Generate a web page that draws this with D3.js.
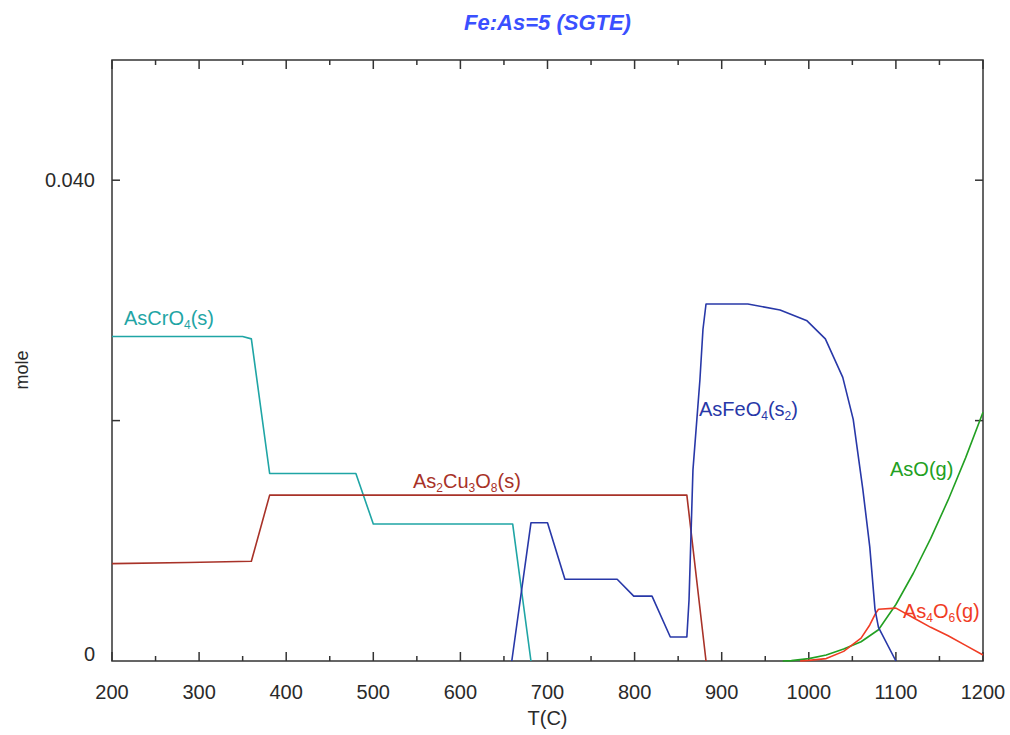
<!DOCTYPE html>
<html><head><meta charset="utf-8">
<script src="https://cdn.jsdelivr.net/npm/d3@7"></script>
<style>body{margin:0;background:#fff}svg{display:block}text{font-family:"Liberation Sans",Arial,sans-serif}</style>
</head><body><svg id="c" width="1010" height="735"></svg>
<script>
const xTicks = [200,300,400,500,600,700,800,900,1000,1100,1200];
const yTickLabels = [{v:0,t:"0"},{v:0.04,t:"0.040"}];
const asCrO4T = [200,350,360,381,480,500,660,681];
const asCrO4V = [0.027,0.027,0.0268,0.0156,0.0156,0.0114,0.0114,0];
const as2Cu3O8T = [200,287,360,381,860,882];
const as2Cu3O8V = [0.0081,0.0082,0.0083,0.0138,0.0138,0];
const asFeO4T = [659,681,700,720,780,799,820,841,860,862.5,867,875,878.5,882,930,967,998,1019,1039,1051,1062,1070,1076,1080,1100];
const asFeO4V = [0,0.0115,0.0115,0.0068,0.0068,0.0054,0.0054,0.002,0.002,0.0051,0.0159,0.0234,0.0276,0.0297,0.0297,0.0292,0.0283,0.0268,0.0236,0.0201,0.0143,0.0095,0.0043,0.0028,0];
const asOT = [970,980,1000,1020,1040,1060,1080,1100,1120,1140,1160,1180,1200];
const asOV = [0,0.00003,0.0002,0.0005,0.001,0.0016,0.0026,0.0047,0.0073,0.0102,0.0134,0.0169,0.0207];
const as4O6T = [990,1000,1020,1040,1060,1070,1077,1080,1100,1120,1140,1160,1180,1200];
const as4O6V = [0,0.00005,0.0002,0.0008,0.0019,0.003,0.004,0.0043,0.0044,0.0036,0.0028,0.0021,0.0013,0.0005];

const svg = d3.select("#c");
const L=112,R=983,T=60,B=661;
const x = d3.scaleLinear().domain([200,1200]).range([L,R]);
const y = d3.scaleLinear().domain([0,0.05]).range([B,T]);
const axisCol="#333";

// title
svg.append("text").attr("x",(L+R)/2).attr("y",30).attr("text-anchor","middle")
  .attr("fill","#3a50ff").attr("font-size",22).attr("font-weight","bold").attr("font-style","italic")
  .text("Fe:As=5 (SGTE)");

// frame
svg.append("rect").attr("x",L).attr("y",T).attr("width",R-L).attr("height",B-T)
  .attr("fill","none").attr("stroke",axisCol).attr("stroke-width",1.5);

// x ticks (inward), bottom and top
const xt = d3.range(200,1201,50);
xt.forEach(v=>{
  const len = v%100===0?9:5;
  svg.append("line").attr("x1",x(v)).attr("x2",x(v)).attr("y1",B).attr("y2",B-len).attr("stroke",axisCol).attr("stroke-width",1.5);
  svg.append("line").attr("x1",x(v)).attr("x2",x(v)).attr("y1",T).attr("y2",T+len).attr("stroke",axisCol).attr("stroke-width",1.5);
});
xTicks.forEach(v=>{
  svg.append("text").attr("x",x(v)).attr("y",699).attr("text-anchor","middle").attr("font-size",20).attr("fill","#2a2a2a").text(v);
});
// y ticks
[0.02,0.04].forEach(v=>{
  svg.append("line").attr("x1",L).attr("x2",L+8).attr("y1",y(v)).attr("y2",y(v)).attr("stroke",axisCol).attr("stroke-width",1.5);
  svg.append("line").attr("x1",R).attr("x2",R-8).attr("y1",y(v)).attr("y2",y(v)).attr("stroke",axisCol).attr("stroke-width",1.5);
});
yTickLabels.forEach(d=>{
  svg.append("text").attr("x",95).attr("y",d.v===0?661:y(d.v)+7).attr("text-anchor","end").attr("font-size",20).attr("fill","#2a2a2a").text(d.t);
});
svg.append("text").attr("x",(L+R)/2).attr("y",725).attr("text-anchor","middle").attr("font-size",20).attr("fill","#2a2a2a").text("T(C)");
svg.append("text").attr("transform","translate(28,370) rotate(-90)").attr("text-anchor","middle").attr("font-size",18).attr("fill","#2a2a2a").text("mole");

// series
const line = d3.line().x(d=>x(d[0])).y(d=>y(d[1]));
const series = [
  {t:asCrO4T,v:asCrO4V,c:"#1fa5a5"},
  {t:as2Cu3O8T,v:as2Cu3O8V,c:"#a83228"},
  {t:asOT,v:asOV,c:"#22a022"},
  {t:as4O6T,v:as4O6V,c:"#f03c24"},
  {t:asFeO4T,v:asFeO4V,c:"#2838a8"}
];
series.forEach(s=>{
  svg.append("path").datum(s.t.map((t,i)=>[t,s.v[i]])).attr("d",line)
    .attr("fill","none").attr("stroke",s.c).attr("stroke-width",1.6).attr("stroke-linejoin","round");
});

// labels
function label(px,py,col,parts){
  const t = svg.append("text").attr("x",px).attr("y",py).attr("font-size",20).attr("fill",col);
  let prevSub=false;
  parts.forEach(p=>{
    if(typeof p==="string"){
      const sp=t.append("tspan").text(p);
      if(prevSub) sp.attr("dy",-4);
      prevSub=false;
    } else {
      t.append("tspan").attr("font-size",12).attr("dy",prevSub?0:4).text(p.s);
      prevSub=true;
    }
  });
}
label(124,325,"#1fa5a5",["AsCrO",{s:"4"},"(s)"]);
label(413,488,"#a83228",["As",{s:"2"},"Cu",{s:"3"},"O",{s:"8"},"(s)"]);
label(699,416,"#2838a8",["AsFeO",{s:"4"},"(s",{s:"2"},")"]);
label(890,476,"#22a022",["AsO(g)"]);
label(903,618,"#f03c24",["As",{s:"4"},"O",{s:"6"},"(g)"]);
</script></body></html>
